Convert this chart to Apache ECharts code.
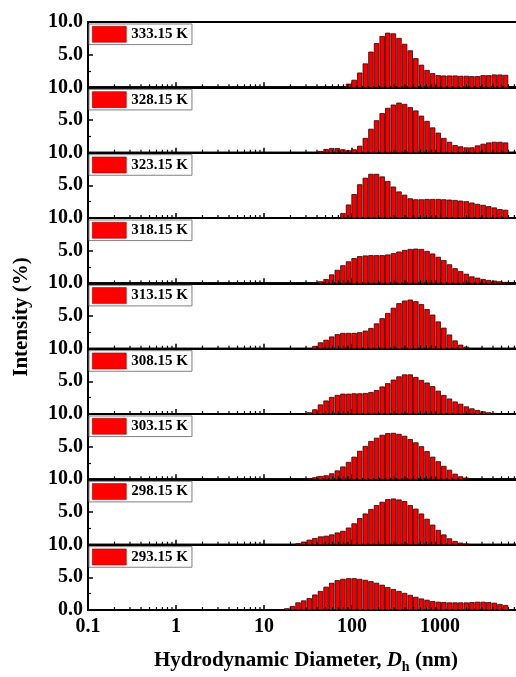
<!DOCTYPE html>
<html>
<head>
<meta charset="utf-8">
<script src="https://cdn.jsdelivr.net/npm/echarts@6/dist/echarts.min.js"></script>
<style>
  html, body { margin: 0; padding: 0; background: #fff; }
  #chart { width: 516px; height: 677px; }
</style>
</head>
<body>
<div id="chart"></div>
<script>
// Size-bin centres (nm) of the DLS intensity distribution
const SIZES = [18.17, 21.04, 24.36, 28.21, 32.67, 37.84, 43.82, 50.75, 58.77, 68.06,
  78.82, 91.28, 105.7, 122.4, 141.8, 164.2, 190.1, 220.2, 255.0, 295.3,
  342.0, 396.1, 458.7, 531.2, 615.1, 712.4, 825.0, 955.4, 1106, 1281,
  1484, 1718, 1990, 2305, 2669, 3091, 3580, 4145, 4801, 5560];

const TEMPS = ['333.15 K', '328.15 K', '323.15 K', '318.15 K', '313.15 K',
  '308.15 K', '303.15 K', '298.15 K', '293.15 K'];

// Intensity (%) per size bin, one list per temperature
const I_333 = [0, 0, 0, 0, 0, 0, 0, 0, 0, 0, 0, 0.5, 1.1, 2.2, 3.6, 5.4, 6.7, 7.8, 8.3, 8.2,
  7.5, 6.6, 5.6, 4.4, 3.4, 2.6, 2.1, 1.8, 1.75, 1.75, 1.75, 1.7, 1.7, 1.65, 1.65, 1.8, 1.8, 1.9, 1.9, 1.85];
const I_328 = [0, 0, 0, 0, 0, 0, 0.2, 0.5, 0.65, 0.65, 0.45, 0.3, 0.45, 1.0, 2.2, 3.6, 4.9, 6.0, 6.8, 7.3,
  7.6, 7.4, 6.9, 6.4, 5.6, 4.8, 3.8, 3.0, 2.2, 1.6, 1.1, 0.9, 0.75, 0.75, 1.05, 1.3, 1.5, 1.6, 1.6, 1.5];
const I_323 = [0, 0, 0, 0, 0, 0, 0, 0, 0, 0, 0.7, 2.0, 3.6, 5.1, 6.1, 6.7, 6.7, 6.3, 5.6, 4.75,
  4.0, 3.5, 2.95, 2.8, 2.8, 2.85, 2.85, 2.85, 2.8, 2.75, 2.7, 2.6, 2.5, 2.3, 2.1, 1.95, 1.75, 1.55, 1.3, 1.2];
const I_318 = [0, 0, 0, 0, 0, 0, 0.25, 0.6, 1.3, 2.0, 2.7, 3.3, 3.8, 4.1, 4.2, 4.25, 4.25, 4.25, 4.35, 4.55,
  4.8, 5.05, 5.2, 5.25, 5.2, 4.9, 4.5, 4.0, 3.5, 2.85, 2.25, 1.8, 1.4, 1.0, 0.8, 0.6, 0.45, 0.35, 0.25, 0.15];
const I_313 = [0, 0, 0, 0, 0, 0.35, 0.9, 1.3, 1.8, 2.15, 2.35, 2.35, 2.35, 2.45, 2.7, 3.1, 3.8, 4.6, 5.4, 6.2,
  6.9, 7.3, 7.45, 7.2, 6.75, 6.0, 5.15, 4.1, 3.15, 2.1, 1.2, 0.55, 0.25, 0, 0, 0, 0, 0, 0, 0];
const I_308 = [0, 0, 0, 0, 0.2, 0.65, 1.4, 2.0, 2.55, 2.85, 3.05, 3.05, 3.1, 3.1, 3.15, 3.3, 3.6, 4.15, 4.65, 5.2,
  5.7, 6.0, 6.0, 5.6, 5.15, 4.75, 4.2, 3.5, 2.85, 2.3, 1.85, 1.5, 1.1, 0.8, 0.55, 0.35, 0.2, 0.1, 0, 0];
const I_303 = [0, 0, 0, 0, 0.1, 0.25, 0.45, 0.55, 0.85, 1.3, 1.9, 2.6, 3.4, 4.3, 5.05, 5.8, 6.3, 6.75, 7.0, 7.05,
  6.9, 6.6, 6.1, 5.6, 5.0, 4.25, 3.4, 2.7, 2.0, 1.4, 0.8, 0.4, 0.2, 0, 0, 0, 0, 0, 0, 0];
const I_298 = [0, 0, 0.15, 0.4, 0.7, 0.95, 1.2, 1.3, 1.5, 1.8, 2.05, 2.55, 3.2, 4.0, 4.7, 5.4, 6.0, 6.5, 6.9, 7.0,
  6.85, 6.6, 6.0, 5.45, 4.7, 3.9, 3.0, 2.2, 1.5, 0.9, 0.5, 0.25, 0.1, 0, 0, 0, 0, 0, 0, 0];
const I_293 = [0.2, 0.55, 1.1, 1.4, 1.75, 2.3, 2.85, 3.5, 4.1, 4.5, 4.7, 4.8, 4.8, 4.7, 4.55, 4.35, 4.1, 3.8, 3.45, 3.15,
  2.85, 2.55, 2.25, 1.95, 1.7, 1.5, 1.3, 1.2, 1.15, 1.1, 1.1, 1.1, 1.1, 1.15, 1.2, 1.2, 1.15, 1.05, 0.85, 0.7];

const PANEL_VALUES = [I_333, I_328, I_323, I_318, I_313, I_308, I_303, I_298, I_293];

// Axis scales
const X_MIN = 0.1, X_MAX = 10000;
const Y_MIN = 0, Y_MAX = 10, Y_STEP = 5;

// Minor log ticks (2..9 within each decade)
const X_MINOR = [];
for (let d = -1; d < 4; d++) {
  for (let m = 2; m < 10; m++) X_MINOR.push(Number((m * Math.pow(10, d)).toPrecision(3)));
}

const FONT = '"Liberation Serif", "Times New Roman", serif';
const PANEL_TOP = 22, PANEL_H = 65.33, LEFT = 88, WIDTH = 440;
const HALF = Math.sqrt(SIZES[1] / SIZES[0]);
const BAR_FILL = '#f20000', BAR_EDGE = '#3a0000';

function renderBar(params, api) {
  const s = api.value(0), v = api.value(1);
  if (!(v > 0)) return null;
  const a = api.coord([s / HALF, 0]);
  const b = api.coord([s * HALF, v]);
  return {
    type: 'rect',
    shape: { x: a[0] + 0.5, y: b[1], width: b[0] - a[0] - 1, height: a[1] - b[1] },
    style: { fill: BAR_FILL, stroke: BAR_EDGE, lineWidth: 0.8 }
  };
}

function renderMinorTick(params, api) {
  const p = api.coord([api.value(0), 0]);
  return {
    type: 'line',
    shape: { x1: p[0], y1: p[1], x2: p[0], y2: p[1] - 3 },
    style: { stroke: '#000', lineWidth: 1.2 }
  };
}

const grids = [], xAxes = [], yAxes = [], series = [], legends = [];
const last = PANEL_VALUES.length - 1;

PANEL_VALUES.forEach((vals, k) => {
  const top = PANEL_TOP + k * PANEL_H;
  grids.push({ left: LEFT, top: top, width: WIDTH, height: PANEL_H,
    outerBoundsMode: 'none', containLabel: false,
    show: true, borderColor: '#000', borderWidth: 2, backgroundColor: 'transparent' });

  xAxes.push({
    gridIndex: k, type: 'log', logBase: 10, min: X_MIN, max: X_MAX,
    axisLine: { show: true, lineStyle: { color: '#000', width: 2 } },
    axisTick: { show: true, inside: true, length: 5, lineStyle: { color: '#000', width: 1.5 } },
    minorTick: { show: false },
    splitLine: { show: false },
    axisLabel: {
      show: k === last, margin: 7, color: '#000', fontFamily: FONT, fontWeight: 'bold', fontSize: 20,
      formatter: v => (v >= 9999 ? '' : (v < 1 ? '0.1' : String(Math.round(v))))
    }
  });

  yAxes.push({
    gridIndex: k, type: 'value', min: Y_MIN, max: Y_MAX, interval: Y_STEP,
    axisLine: { show: true, lineStyle: { color: '#000', width: 2 } },
    axisTick: { show: true, inside: true, length: 5, lineStyle: { color: '#000', width: 1.5 } },
    minorTick: { show: true, splitNumber: 2, length: 3, lineStyle: { color: '#000', width: 1.2 } },
    splitLine: { show: false },
    axisLabel: {
      margin: 5, color: '#000', fontFamily: FONT, fontWeight: 'bold', fontSize: 20,
      formatter: v => (v === 0 && k !== last ? '' : v.toFixed(1))
    }
  });

  series.push({
    name: TEMPS[k], type: 'custom', xAxisIndex: k, yAxisIndex: k,
    renderItem: renderBar, silent: true, animation: false,
    itemStyle: { color: '#ff0000' },
    encode: { x: 0, y: 1 },
    data: SIZES.map((s, i) => [s, vals[i]])
  });

  series.push({
    name: 'minor-' + k, type: 'custom', xAxisIndex: k, yAxisIndex: k,
    renderItem: renderMinorTick, silent: true, animation: false, z: 3,
    data: X_MINOR.map(v => [v, 0])
  });

  legends.push({
    data: [TEMPS[k]], left: 89, top: top + 2, icon: 'rect', selectedMode: false,
    itemWidth: 34, itemHeight: 16, padding: [2, 4, 2, 3],
    backgroundColor: '#fff', borderColor: '#808080', borderWidth: 1, borderRadius: 0,
    itemStyle: { color: '#ff0000', borderColor: '#a00000', borderWidth: 0.6 },
    textStyle: { color: '#000', fontFamily: FONT, fontWeight: 'bold', fontSize: 15 }
  });
});

const chart = echarts.init(document.getElementById('chart'), null, { renderer: 'canvas' });
chart.setOption({
  animation: false,
  backgroundColor: '#fff',
  grid: grids,
  xAxis: xAxes,
  yAxis: yAxes,
  legend: legends,
  series: series,
  graphic: [
    {
      type: 'text', x: 22, y: 317, rotation: Math.PI / 2,
      style: { text: 'Intensity (%)', align: 'center', verticalAlign: 'middle',
        fill: '#000', font: 'bold 21px ' + FONT }
    },
    {
      type: 'text', x: 306, y: 661,
      style: {
        text: '{b|Hydrodynamic Diameter, }{i|D}{s|h}{b| (nm)}',
        align: 'center', verticalAlign: 'middle',
        rich: {
          b: { fill: '#000', fontFamily: FONT, fontWeight: 'bold', fontSize: 21, lineHeight: 26 },
          i: { fill: '#000', fontFamily: FONT, fontWeight: 'bold', fontStyle: 'italic', fontSize: 21, lineHeight: 26 },
          s: { fill: '#000', fontFamily: FONT, fontWeight: 'bold', fontSize: 14, lineHeight: 26, verticalAlign: 'bottom' }
        }
      }
    }
  ]
});
</script>
</body>
</html>
